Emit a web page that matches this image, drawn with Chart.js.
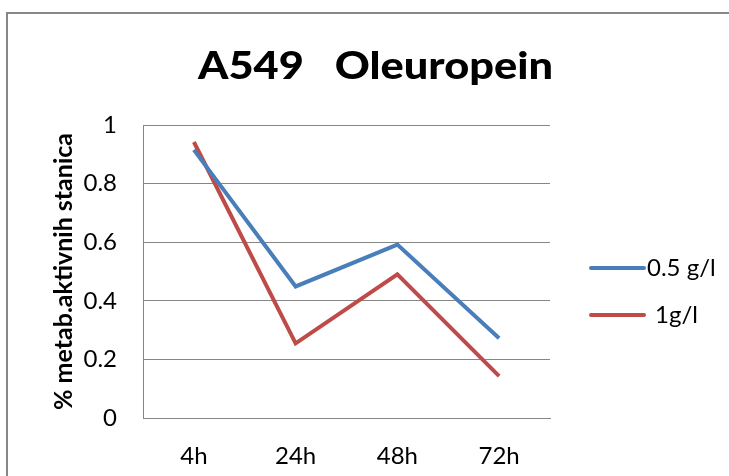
<!DOCTYPE html>
<html>
<head>
<meta charset="utf-8">
<script src="https://cdn.jsdelivr.net/npm/chart.js@4/dist/chart.umd.min.js"></script>
<style>
  html, body { margin: 0; padding: 0; background: #fff; }
  #wrap { width: 729px; height: 476px; position: relative; }
</style>
</head>
<body>
<div id="wrap"><canvas id="myChart" width="729" height="476"></canvas></div>
<script>
const hours = ["4h", "24h", "48h", "72h"];
const half = [0.915, 0.449, 0.592, 0.272];
const one = [0.942, 0.255, 0.49, 0.143];
const yTicks = [0, 0.2, 0.4, 0.6, 0.8, 1];

const FONT = "Lato, 'Liberation Sans', sans-serif";
const GRID = "#868686";

// frame, title and legend drawn at fixed places like the original sheet
const decor = {
  id: "decor",
  afterDraw(chart) {
    const c = chart.ctx;
    c.save();
    c.strokeStyle = "#878787";
    c.lineWidth = 2;
    c.beginPath();
    c.moveTo(7, 476);
    c.lineTo(7, 13);
    c.lineTo(729, 13);
    c.stroke();

    // title, stretched a little to the width of the original
    c.fillStyle = "#000";
    c.font = "900 38px " + FONT;
    c.textAlign = "left";
    c.textBaseline = "alphabetic";
    const title = "A549   Oleuropein";
    const w = c.measureText(title).width;
    c.save();
    c.translate(198, 79);
    c.scale(355 / w, 1);
    c.fillText(title, 0, 0);
    c.restore();

    c.font = "24px " + FONT;
    c.textBaseline = "middle";
    const rows = [268, 315];
    const gaps = [2, 10];
    chart.data.datasets.forEach((ds, i) => {
      c.strokeStyle = ds.borderColor;
      c.lineWidth = 4;
      c.lineCap = "round";
      c.beginPath();
      c.moveTo(591, rows[i]);
      c.lineTo(644, rows[i]);
      c.stroke();
      c.fillText(ds.label, 645 + gaps[i], rows[i]);
    });
    c.restore();
  }
};

new Chart(document.getElementById("myChart").getContext("2d"), {
  type: "line",
  data: {
    labels: hours,
    datasets: [
      { label: "0.5 g/l", data: half, borderColor: "#4A7EBB", backgroundColor: "#4A7EBB" },
      { label: "1g/l", data: one, borderColor: "#BE4B48", backgroundColor: "#BE4B48" }
    ]
  },
  options: {
    responsive: false,
    animation: false,
    layout: { padding: { top: 125, right: 179, bottom: 0, left: 0 } },
    elements: {
      point: { radius: 0 },
      line: { borderWidth: 4, tension: 0 }
    },
    plugins: {
      legend: { display: false },
      title: { display: false },
      tooltip: { enabled: false }
    },
    scales: {
      x: {
        offset: true,
        grid: { display: false, drawTicks: false },
        border: { display: true, color: GRID, width: 1 },
        ticks: { color: "#000", padding: 24, font: { family: FONT, size: 24 } },
        afterFit(s) { s.height = 58; }
      },
      y: {
        min: 0,
        max: 1,
        afterBuildTicks(s) { s.ticks = yTicks.map(v => ({ value: v })); },
        grid: { color: GRID, lineWidth: 1, drawTicks: false },
        border: { display: true, color: GRID, width: 1 },
        ticks: {
          color: "#000",
          padding: 26,
          font: { family: FONT, size: 24 },
          callback: v => String(+v.toFixed(1))
        },
        title: {
          display: true,
          text: "% metab.aktivnih stanica",
          color: "#000",
          font: { family: FONT, size: 25, weight: "bold" },
          padding: { top: 49, bottom: 0 }
        },
        afterFit(s) { s.width = 143; }
      }
    }
  },
  plugins: [decor]
});
</script>
</body>
</html>
